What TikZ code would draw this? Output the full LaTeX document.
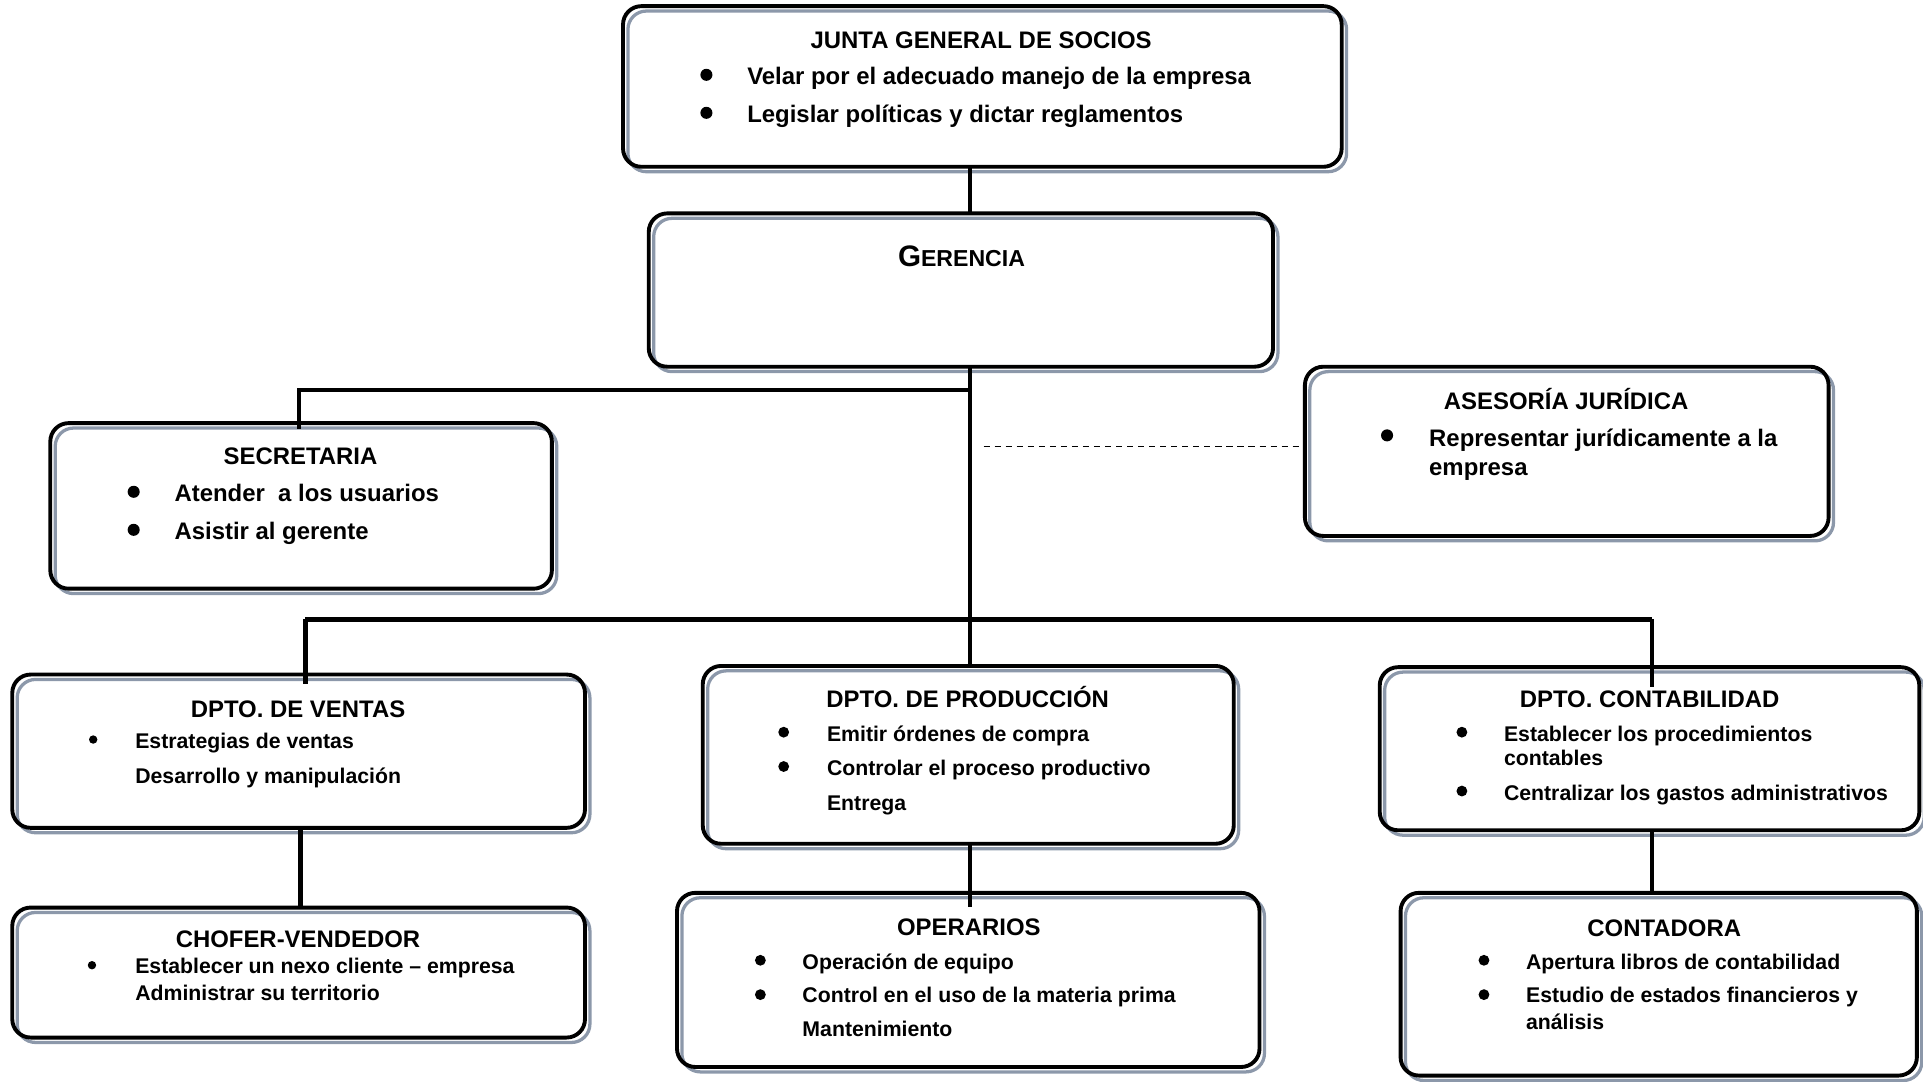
\documentclass[tikz,border=0pt]{standalone}
\usepackage{fontspec}
\setmainfont{Liberation Sans}
\usetikzlibrary{fit,calc}
\definecolor{edgegray}{RGB}{140,152,170}

% rounded box: white fill, grey offset outline, black frame
\newcommand\orgbox[5]{%
  \node[boxfill, fit={(#2,#3) (#4,#5)}] (#1) {};
  \draw[boxshade] ($(#2,#3)+(4,4)$) rectangle ($(#4,#5)+(4,4)$);
  \draw[boxline] (#1.north west) rectangle (#1.south east);
}

\tikzset{
  boxfill/.style={fill=white, draw=none, inner sep=0pt, outer sep=0pt},
  boxshade/.style={draw=edgegray, line width=1.6pt, rounded corners=9pt},
  boxline/.style={draw=black, line width=1.9pt, rounded corners=9pt},
  conn/.style={draw=black, line width=2.2pt},
  dashconn/.style={draw=black, line width=0.9pt, dash pattern=on 3pt off 2.4pt},
  title/.style={font=\fontsize{11.7}{14}\selectfont\bfseries, anchor=base, inner sep=0pt, yshift=-1pt},
  itemA/.style={font=\fontsize{11.7}{14}\selectfont\bfseries, anchor=base west, inner sep=0pt, yshift=-1.1pt},
  itemB/.style={font=\fontsize{10.4}{12.5}\selectfont\bfseries, anchor=base west, inner sep=0pt, yshift=-0.9pt},
  dotA/.style={circle, fill=black, draw=none, inner sep=0pt, minimum size=5.9pt},
  dotB/.style={circle, fill=black, draw=none, inner sep=0pt, minimum size=5.3pt},
  dotC/.style={circle, fill=black, draw=none, inner sep=0pt, minimum size=4.1pt},
}

\begin{document}
\begin{tikzpicture}[x=0.6pt, y=-0.6pt]
\useasboundingbox (0,0) rectangle (1568,882);
\clip (0,0) rectangle (1568,882);

% ---- boxes ----
\orgbox{junta}{508}{5}{1094}{136}
\orgbox{gerencia}{529}{174}{1038}{299}
\orgbox{secretaria}{41}{345}{450}{480}
\orgbox{asesoria}{1064}{299}{1491}{437}
\orgbox{ventas}{10}{550}{477}{675}
\orgbox{produccion}{573}{543}{1006}{688}
\orgbox{contabilidad}{1125}{544}{1565}{677}
\orgbox{chofer}{10}{740}{477}{846}
\orgbox{operarios}{552}{728}{1027}{870}
\orgbox{contadora}{1142}{728}{1563}{877}

% ---- connector reference points ----
\coordinate (spine) at (791,318);
\coordinate (secbar) at (244,318);
\coordinate (busL) at (249,505);
\coordinate (busM) at (791,505);
\coordinate (busR) at (1347,505);
\coordinate (ventasIn) at (249,558);
\coordinate (contIn) at (1347,560);
\coordinate (choferX) at (245,700);
\coordinate (dashStart) at (802,364);

% ---- connectors ----
\draw[conn] (spine |- junta.south) -- (spine |- gerencia.north);
\draw[conn] (spine |- gerencia.south) -- (spine |- produccion.north);
\draw[conn] (spine) -- (secbar) -- ([yshift=-3pt]secbar |- secretaria.north);
\draw[conn] (busL) -- (busR);
\draw[conn] (busL) -- (ventasIn);
\draw[conn] (busR) -- (contIn);
\draw[conn] (choferX |- ventas.south) -- (choferX |- chofer.north);
\draw[conn] (spine |- produccion.south) -- ([yshift=-7pt]spine |- operarios.north);
\draw[conn] (busR |- contabilidad.south) -- (busR |- contadora.north);
\draw[dashconn] (dashStart) -- (dashStart -| asesoria.west);

% ---- JUNTA GENERAL DE SOCIOS ----
\node[title] (jt) at (800,38) {JUNTA GENERAL DE SOCIOS};
\node[dotA] (jb1) at (576,61) {};
\node[itemA] (j1) at (609,67) {Velar por el adecuado manejo de la empresa};
\node[dotA] (jb2) at (576,92) {};
\node[itemA] (j2) at (609,98) {Legislar políticas y dictar reglamentos};

% ---- GERENCIA ----
\node[anchor=base, inner sep=0pt, font=\bfseries, yshift=-1pt] (gt) at (784,216)
  {{\fontsize{14.5}{16}\selectfont G}{\fontsize{11.3}{14}\selectfont ERENCIA}};

% ---- SECRETARIA ----
\node[title] (st) at (245,377) {SECRETARIA};
\node[dotA] (sb1) at (109,401) {};
\node[itemA] (s1) at (142,407) {Atender\ \ a los usuarios};
\node[dotA] (sb2) at (109,432) {};
\node[itemA] (s2) at (142,438) {Asistir al gerente};

% ---- ASESORIA JURIDICA ----
\node[title] (at) at (1277,332) {ASESORÍA JURÍDICA};
\node[dotA] (ab1) at (1131,355) {};
\node[itemA] (a1) at (1165,362) {Representar jurídicamente a la};
\node[itemA] (a2) at (1165,386) {empresa};

% ---- DPTO. DE VENTAS ----
\node[title] (vt) at (243,583) {DPTO. DE VENTAS};
\node[dotC] (vb1) at (76,603) {};
\node[itemB] (v1) at (110,609) {Estrategias de ventas};
\node[itemB] (v2) at (110,637) {Desarrollo y manipulación};

% ---- DPTO. DE PRODUCCION ----
\node[title] (pt) at (789,575) {DPTO. DE PRODUCCIÓN};
\node[dotB] (pb1) at (639,597) {};
\node[itemB] (p1) at (674,603) {Emitir órdenes de compra};
\node[dotB] (pb2) at (639,625) {};
\node[itemB] (p2) at (674,631) {Controlar el proceso productivo};
\node[itemB] (p3) at (674,659) {Entrega};

% ---- DPTO. CONTABILIDAD ----
\node[title] (ct) at (1345,575) {DPTO. CONTABILIDAD};
\node[dotB] (cb1) at (1192,597) {};
\node[itemB] (c1) at (1226,603) {Establecer los procedimientos};
\node[itemB] (c2) at (1226,623) {contables};
\node[dotB] (cb2) at (1192,645) {};
\node[itemB] (c3) at (1226,651) {Centralizar los gastos administrativos};

% ---- CHOFER-VENDEDOR ----
\node[title] (ht) at (243,771) {CHOFER-VENDEDOR};
\node[dotC] (hb1) at (75,787) {};
\node[itemB] (h1) at (110,792) {Establecer un nexo cliente – empresa};
\node[itemB] (h2) at (110,814) {Administrar su territorio};

% ---- OPERARIOS ----
\node[title] (ot) at (790,761) {OPERARIOS};
\node[dotB] (ob1) at (620,783) {};
\node[itemB] (o1) at (654,789) {Operación de equipo};
\node[dotB] (ob2) at (620,811) {};
\node[itemB] (o2) at (654,816) {Control en el uso de la materia prima};
\node[itemB] (o3) at (654,844) {Mantenimiento};

% ---- CONTADORA ----
\node[title] (dt) at (1357,762) {CONTADORA};
\node[dotB] (db1) at (1210,783) {};
\node[itemB] (d1) at (1244,789) {Apertura libros de contabilidad};
\node[dotB] (db2) at (1210,811) {};
\node[itemB] (d2) at (1244,816) {Estudio de estados financieros y};
\node[itemB] (d3) at (1244,838) {análisis};

\end{tikzpicture}
\end{document}
